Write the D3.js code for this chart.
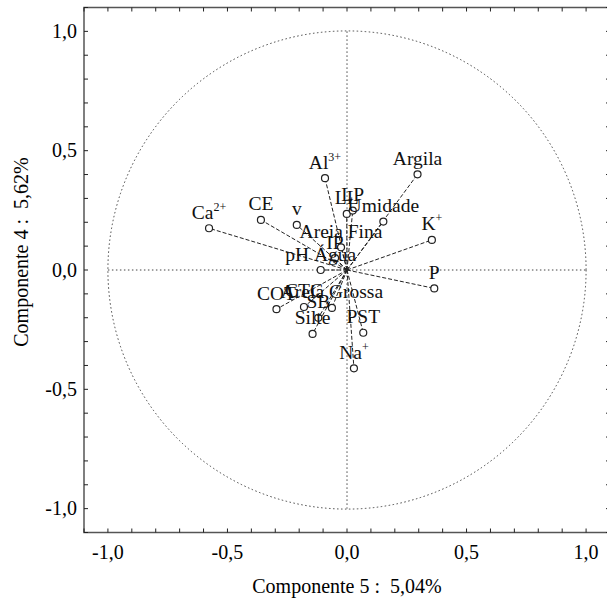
<!DOCTYPE html>
<html><head><meta charset="utf-8">
<script src="https://cdn.jsdelivr.net/npm/d3@7"></script>
<style>body{margin:0;background:#fff}svg{display:block}
text{font-family:"Liberation Serif","Tinos","Times New Roman","DejaVu Serif",serif}</style>
</head><body>
<svg id="c" width="607" height="602"></svg>
<script>
const names = ["Ca","CE","v","Al","LL","LP","Umidade","Argila","K","P","Areia Fina","IP","pH Água","COT","CTC","Areia Grossa","SB","Silte","PST","Na"];
const sups  = ["2+","","","3+","","","","","+","","","","","","","","","","","+"];
const comp5 = [-0.577,-0.36,-0.21,-0.092,-0.001,0.024,0.152,0.295,0.355,0.365,-0.025,-0.05,-0.11,-0.295,-0.18,-0.063,-0.12,-0.144,0.068,0.029];
const comp4 = [0.175,0.21,0.189,0.385,0.235,0.249,0.203,0.401,0.126,-0.077,0.095,0.05,0.0,-0.164,-0.155,-0.159,-0.2,-0.268,-0.263,-0.412];
const ticks = [-1.0,-0.5,0.0,0.5,1.0];
const xTitle = "Componente 5 :  5,04%";
const yTitle = "Componente 4 :  5,62%";

const svg = d3.select("#c");
const x = d3.scaleLinear().domain([-1.1,1.1]).range([84,610]);
const y = d3.scaleLinear().domain([-1.1,1.1]).range([532.5,7.5]);
const fmt = d => d3.format(".1f")(d).replace(".", ",").replace("\u2212","-");

svg.append("rect").attr("x",x(-1.1)).attr("y",y(1.1)).attr("width",x(1.1)-x(-1.1)).attr("height",y(-1.1)-y(1.1))
  .attr("fill","none").attr("stroke","#555").attr("stroke-width",1.5);

const minor = d3.range(-11,12).map(d=>d/10);
const tl = 4;
const tg = svg.append("g").attr("stroke","#222").attr("stroke-width",1);
minor.forEach(t=>{
  tg.append("line").attr("x1",x(t)).attr("x2",x(t)).attr("y1",y(-1.1)).attr("y2",y(-1.1)-tl);
  tg.append("line").attr("x1",x(t)).attr("x2",x(t)).attr("y1",y(1.1)).attr("y2",y(1.1)+tl);
  tg.append("line").attr("y1",y(t)).attr("y2",y(t)).attr("x1",x(-1.1)).attr("x2",x(-1.1)+tl);
  tg.append("line").attr("y1",y(t)).attr("y2",y(t)).attr("x1",x(1.1)).attr("x2",x(1.1)-tl);
});

svg.append("g").selectAll("text").data(ticks).join("text")
  .attr("x",d=>x(d)).attr("y",559).attr("text-anchor","middle")
  .attr("font-size",20).text(fmt);
svg.append("g").selectAll("text").data(ticks).join("text")
  .attr("x",77).attr("y",d=>y(d)+6.5).attr("text-anchor","end")
  .attr("font-size",20).text(fmt);

svg.append("text").attr("x",x(0)).attr("y",593).attr("text-anchor","middle")
  .attr("font-size",20).style("white-space","pre").text(xTitle);
svg.append("text").attr("transform",`translate(28,${y(0)-18}) rotate(-90)`).attr("text-anchor","middle")
  .attr("font-size",20).style("white-space","pre").text(yTitle);

const dotted = "1.5,2.5";
svg.append("circle").attr("cx",x(0)).attr("cy",y(0)).attr("r",x(1)-x(0))
  .attr("fill","none").attr("stroke","#444").attr("stroke-width",1).attr("stroke-dasharray",dotted);
svg.append("line").attr("x1",x(-1)).attr("x2",x(1)).attr("y1",y(0)).attr("y2",y(0))
  .attr("stroke","#444").attr("stroke-dasharray",dotted);
svg.append("line").attr("x1",x(0)).attr("x2",x(0)).attr("y1",y(1)).attr("y2",y(-1))
  .attr("stroke","#444").attr("stroke-dasharray",dotted);

const pts = names.map((n,i)=>({n, s:sups[i], a:comp5[i], b:comp4[i]}));
svg.append("g").selectAll("line").data(pts).join("line")
  .attr("x1",x(0)).attr("y1",y(0)).attr("x2",d=>x(d.a)).attr("y2",d=>y(d.b))
  .attr("stroke","#222").attr("stroke-width",1).attr("stroke-dasharray","4,2");
svg.append("g").selectAll("circle").data(pts).join("circle")
  .attr("cx",d=>x(d.a)).attr("cy",d=>y(d.b)).attr("r",3.5)
  .attr("fill","#fff").attr("stroke","#222").attr("stroke-width",1.2);
const lab = svg.append("g").selectAll("text").data(pts).join("text")
  .attr("x",d=>x(d.a)).attr("y",d=>y(d.b)-9.5).attr("text-anchor","middle")
  .attr("font-size",19.5).attr("fill","#111");
lab.append("tspan").text(d=>d.n);
lab.filter(d=>d.s).append("tspan").attr("font-size",12).attr("dy",-8).text(d=>d.s);
</script>
</body></html>
